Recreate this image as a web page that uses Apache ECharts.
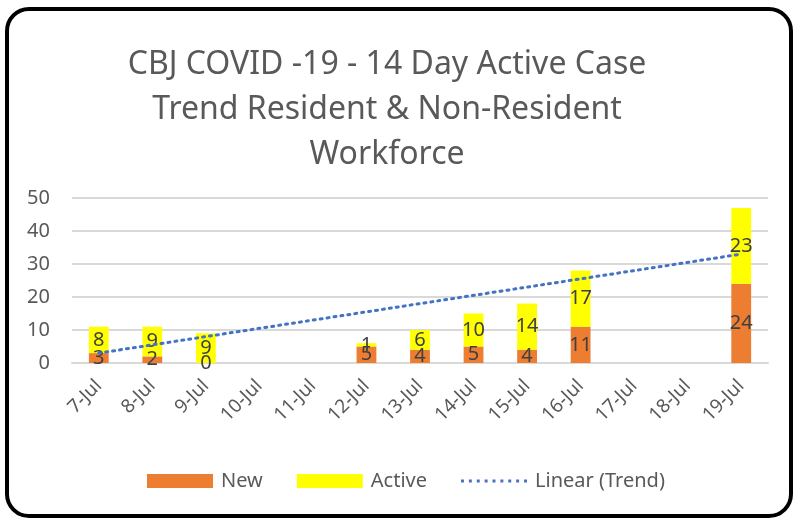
<!DOCTYPE html>
<html>
<head>
<meta charset="utf-8">
<style>
  html, body { margin: 0; padding: 0; background: #fff; }
  #wrap { position: relative; width: 793px; height: 519px; overflow: hidden; }
  #frame { position: absolute; left: 5px; top: 7px; width: 780px; height: 503px;
           border: 4px solid #000; border-radius: 24px; pointer-events: none; }
  #chart { position: absolute; left: 0; top: 0; width: 793px; height: 519px; }
</style>
</head>
<body>
<div id="wrap">
  <div id="chart"></div>
  <div id="frame"></div>
</div>
<script src="https://cdn.jsdelivr.net/npm/echarts@6/dist/echarts.min.js"></script>
<script>
  var days = ['7-Jul', '8-Jul', '9-Jul', '10-Jul', '11-Jul', '12-Jul', '13-Jul',
              '14-Jul', '15-Jul', '16-Jul', '17-Jul', '18-Jul', '19-Jul'];
  var newCases = [3, 2, 0, null, null, 5, 4, 5, 4, 11, null, null, 24];
  var activeCases = [8, 9, 9, null, null, 1, 6, 10, 14, 17, null, null, 23];
  // trend line at its two ends
  var trend = [3, null, null, null, null, null, null, null, null, null, null, null, 33];
  var yTicks = [0, 10, 20, 30, 40, 50];

  var font = 'Noto Sans';
  // dotted legend icon for the trend line
  var dots = '';
  for (var i = 0; i < 9; i++) {
    dots += 'M' + (i * 8) + ',0h3v3h-3z';
  }
  var myChart = echarts.init(document.getElementById('chart'));
  var labelStyle = {
    show: true,
    position: 'inside',
    color: '#404040',
    fontSize: 20,
    fontFamily: font
  };
  var option = {
    backgroundColor: '#fff',
    animation: false,
    title: {
      text: 'CBJ COVID -19 - 14 Day Active Case\nTrend Resident & Non-Resident\nWorkforce',
      left: 382,
      textAlign: 'center',
      top: 37,
      textStyle: {
        color: '#595959',
        fontSize: 32,
        fontWeight: 'normal',
        fontFamily: font,
        lineHeight: 45
      }
    },
    legend: {
      top: 466,
      left: 142,
      itemWidth: 66,
      itemHeight: 14,
      itemGap: 34,
      textStyle: { color: '#595959', fontSize: 20, fontFamily: font, padding: [0, 0, 0, 3] },
      data: [
        { name: 'New', icon: 'rect' },
        { name: 'Active', icon: 'rect' },
        { name: 'Linear (Trend)', icon: 'path://' + dots }
      ]
    },
    grid: { left: 72, right: 25, top: 198, bottom: 156 },
    xAxis: {
      type: 'category',
      data: days,
      axisLine: { lineStyle: { color: '#D9D9D9', width: 2 } },
      axisTick: { show: false },
      axisLabel: {
        rotate: 45,
        interval: 0,
        margin: 20,
        color: '#595959',
        fontSize: 19,
        fontFamily: font
      }
    },
    yAxis: {
      type: 'value',
      min: yTicks[0],
      max: yTicks[yTicks.length - 1],
      interval: 10,
      axisLine: { show: false },
      axisTick: { show: false },
      axisLabel: { color: '#595959', fontSize: 20, fontFamily: font, margin: 22 },
      splitLine: { lineStyle: { color: '#D9D9D9', width: 2 } }
    },
    series: [
      {
        name: 'New', type: 'bar', stack: 'cases', data: newCases,
        barWidth: '37%',
        itemStyle: { color: '#ED7D31' },
        label: labelStyle
      },
      {
        name: 'Active', type: 'bar', stack: 'cases', data: activeCases,
        itemStyle: { color: '#FFFF00' },
        label: labelStyle
      },
      {
        name: 'Linear (Trend)', type: 'line', data: trend,
        connectNulls: true,
        symbol: 'none',
        itemStyle: { color: '#4472C4' },
        lineStyle: { color: '#4472C4', width: 3, type: [2, 5], cap: 'round' },
        z: 5
      }
    ]
  };
  myChart.setOption(option);
</script>
</body>
</html>
